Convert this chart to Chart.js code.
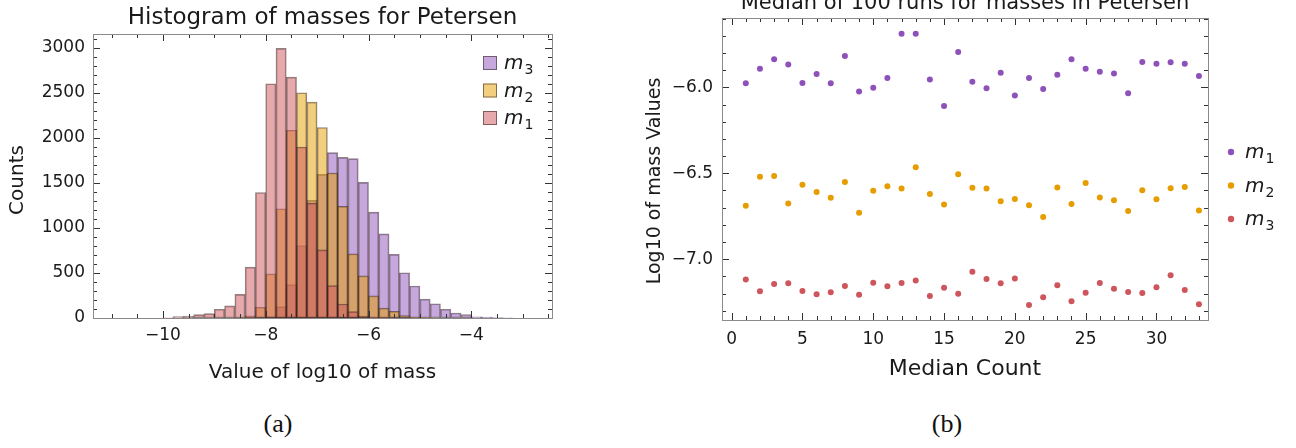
<!DOCTYPE html>
<html><head><meta charset="utf-8">
<script src="https://cdn.jsdelivr.net/npm/chart.js@4.4.0/dist/chart.umd.min.js"></script>
<style>
html,body{margin:0;padding:0;background:#fff;width:1296px;height:448px;overflow:hidden;position:relative}
#c1{position:absolute;left:0;top:0}
#c2{position:absolute;left:620px;top:-10px}
.cap{position:absolute;font-family:"Liberation Serif",serif;font-size:26px;color:#111;top:409px;width:80px;text-align:center}
</style></head><body>
<canvas id="c1" width="620" height="400"></canvas>
<canvas id="c2" width="676" height="410"></canvas>
<div class="cap" style="left:238px">(a)</div>
<div class="cap" style="left:907px">(b)</div>
<script>
const FONT = "'DejaVu Sans', sans-serif";
const TXT = '#1a1a1a';

// ---- Histogram data (bin centres, bin width 0.2) ----
const binCenters = [-9.9,-9.7,-9.5,-9.3,-9.1,-8.9,-8.7,-8.5,-8.3,-8.1,-7.9,-7.7,-7.5,-7.3,-7.1,-6.9,-6.7,-6.5,-6.3,-6.1,-5.9,-5.7,-5.5,-5.3,-5.1,-4.9,-4.7,-4.5,-4.3,-4.1,-3.9,-3.7,-3.5,-3.3];
const m1Counts = [3,15,22,37,48,97,135,262,566,1394,2602,2995,2676,1900,1277,757,360,156,70,22,8,3,0,0,0,0,0,0,0,0,0,0,0,0];
const m2Counts = [0,0,0,0,0,2,3,6,24,119,490,1214,2086,2502,2398,2116,1611,1240,713,468,245,110,74,26,11,5,2,0,0,0,0,0,0,0];
const m3Counts = [0,0,0,0,0,0,0,0,0,3,15,126,371,805,1307,1596,1837,1785,1771,1507,1177,935,707,503,355,210,158,97,56,39,13,10,6,3];
const histXTicks = [-10,-8,-6,-4];
const histXTickLabels = ['\u221210','\u22128','\u22126','\u22124'];
const histYTicks = [0,500,1000,1500,2000,2500,3000];
const histYTickLabels = ['0','500','1000','1500','2000','2500','3000'];

// ---- Median scatter data ----
const medianCount = [1,2,3,4,5,6,7,8,9,10,11,12,13,14,15,16,17,18,19,20,21,22,23,24,25,26,27,28,29,30,31,32,33];
const m1Median = [-5.977,-5.892,-5.837,-5.868,-5.975,-5.923,-5.977,-5.818,-6.025,-6.002,-5.946,-5.688,-5.688,-5.954,-6.109,-5.795,-5.967,-6.006,-5.915,-6.047,-5.946,-6.010,-5.927,-5.837,-5.892,-5.909,-5.919,-6.035,-5.853,-5.863,-5.855,-5.863,-5.934];
const m2Median = [-6.688,-6.520,-6.516,-6.675,-6.566,-6.609,-6.642,-6.551,-6.729,-6.601,-6.576,-6.589,-6.465,-6.620,-6.682,-6.506,-6.584,-6.589,-6.663,-6.649,-6.686,-6.754,-6.582,-6.678,-6.556,-6.640,-6.657,-6.719,-6.599,-6.651,-6.587,-6.580,-6.717];
const m3Median = [-7.118,-7.186,-7.144,-7.140,-7.184,-7.204,-7.192,-7.155,-7.206,-7.136,-7.157,-7.138,-7.124,-7.213,-7.165,-7.200,-7.072,-7.115,-7.140,-7.111,-7.266,-7.221,-7.151,-7.244,-7.194,-7.138,-7.171,-7.190,-7.196,-7.163,-7.093,-7.178,-7.262];
const scatXTicks = [0,5,10,15,20,25,30];
const scatXTickLabels = ['0','5','10','15','20','25','30'];
const scatYTicks = [-7,-6.5,-6];
const scatYTickLabels = ['\u22127.0','\u22126.5','\u22126.0'];

const purple = 'rgb(141,81,185)', orange = 'rgb(229,157,0)', red = 'rgb(205,85,91)';
const purpleA = 'rgba(141,81,185,0.5)', orangeA = 'rgba(229,157,0,0.5)', redA = 'rgba(205,85,91,0.5)';
const edge = 'rgba(45,30,30,0.55)';

function range(a, b, div) { const r = []; for (let k = a; k <= b; k++) r.push(k / div); return r; }

function frameTicks(cfg) {
  return {
    id: 'frameTicks',
    afterDatasetsDraw(chart) {
      const {ctx, chartArea: a, scales: {x, y}} = chart;
      ctx.save();
      ctx.beginPath();
      const dx = (v, len) => {
        const px = Math.round(x.getPixelForValue(v)) + 0.5;
        if (px < a.left || px > a.right) return;
        ctx.moveTo(px, a.bottom); ctx.lineTo(px, a.bottom - len);
        ctx.moveTo(px, a.top); ctx.lineTo(px, a.top + len);
      };
      const dy = (v, len) => {
        const py = Math.round(y.getPixelForValue(v)) + 0.5;
        if (py < a.top || py > a.bottom) return;
        ctx.moveTo(a.left, py); ctx.lineTo(a.left + len, py);
        ctx.moveTo(a.right, py); ctx.lineTo(a.right - len, py);
      };
      cfg.xMinor.forEach(v => dx(v, 4)); cfg.xMajor.forEach(v => dx(v, 7));
      cfg.yMinor.forEach(v => dy(v, 4)); cfg.yMajor.forEach(v => dy(v, 7));
      ctx.strokeStyle = '#333'; ctx.lineWidth = 1; ctx.stroke();
      ctx.strokeStyle = '#8a8a8a';
      ctx.strokeRect(Math.round(a.left) + 0.5, Math.round(a.top) + 0.5, Math.round(a.right - a.left), Math.round(a.bottom - a.top));
      // rotated y-axis title
      ctx.translate(cfg.yTitleX, a.top + cfg.yTitleDy);
      ctx.rotate(-Math.PI / 2);
      ctx.font = cfg.yTitleSize + "px " + FONT; ctx.fillStyle = TXT; ctx.textAlign = 'center'; ctx.textBaseline = 'middle';
      ctx.fillText(cfg.yTitle, 0, 0);
      ctx.restore();
    }
  };
}

function drawLabel(ctx, x, y, digit) {
  ctx.fillStyle = TXT;
  ctx.textBaseline = 'alphabetic';
  ctx.textAlign = 'left';
  ctx.font = "italic 20px " + FONT;
  ctx.fillText('m', x, y);
  const w = ctx.measureText('m').width;
  ctx.font = "14px " + FONT;
  ctx.fillText(digit, x + w + 1, y + 5);
}

const histLegend = {
  id: 'histLegend',
  afterDraw(chart) {
    const ctx = chart.ctx, a = chart.chartArea;
    const items = [['3', purpleA], ['2', orangeA], ['1', redA]];
    ctx.save();
    items.forEach((it, i) => {
      const cy = a.top + 29 + i * 27.5;
      const sx = a.right - 69;
      ctx.fillStyle = '#fff'; ctx.fillRect(sx, cy - 7, 14, 14);
      ctx.fillStyle = it[1]; ctx.fillRect(sx, cy - 7, 14, 14);
      ctx.strokeStyle = edge; ctx.lineWidth = 1; ctx.strokeRect(sx + 0.5, cy - 6.5, 13, 13);
      drawLabel(ctx, sx + 21, cy + 6, it[0]);
    });
    ctx.restore();
  }
};

const scatLegend = {
  id: 'scatLegend',
  afterDraw(chart) {
    const ctx = chart.ctx, a = chart.chartArea;
    const items = [['1', purple], ['2', orange], ['3', red]];
    ctx.save();
    items.forEach((it, i) => {
      const cy = a.top + 134 + i * 33.5;
      const cx = a.right + 23;
      ctx.beginPath(); ctx.arc(cx, cy, 3.2, 0, Math.PI * 2); ctx.fillStyle = it[1]; ctx.fill();
      drawLabel(ctx, cx + 14, cy + 6, it[0]);
    });
    ctx.restore();
  }
};

function histData(counts) {
  return binCenters.map((c, i) => ({x: c, y: counts[i]})).filter(p => p.y > 0);
}

new Chart(document.getElementById('c1'), {
  type: 'bar',
  data: {
    datasets: [
      {label: 'm3', data: histData(m3Counts), backgroundColor: purpleA, borderColor: edge, borderWidth: 1, borderSkipped: false, order: 3},
      {label: 'm2', data: histData(m2Counts), backgroundColor: orangeA, borderColor: edge, borderWidth: 1, borderSkipped: false, order: 2},
      {label: 'm1', data: histData(m1Counts), backgroundColor: redA, borderColor: edge, borderWidth: 1, borderSkipped: false, order: 1}
    ]
  },
  options: {
    responsive: false, animation: false, devicePixelRatio: 1,
    layout: {padding: {left: 0, right: 68, top: 0, bottom: 0}},
    datasets: {bar: {grouped: false, barPercentage: 1, categoryPercentage: 1}},
    plugins: {
      legend: {display: false}, tooltip: {enabled: false},
      title: {display: true, fullSize: false, text: 'Histogram of masses for Petersen', color: TXT,
        font: {family: FONT, size: 23, weight: 'normal', lineHeight: 1.2}, padding: {top: 4, bottom: 2.4}}
    },
    scales: {
      x: {
        type: 'linear', min: -11.36, max: -2.43, offset: false,
        grid: {display: false, drawTicks: false}, border: {display: false},
        afterBuildTicks: s => { s.ticks = histXTicks.map(v => ({value: v})); },
        ticks: {callback: (v, i) => histXTickLabels[i], color: TXT, font: {family: FONT, size: 17}, padding: 7, maxRotation: 0, autoSkip: false},
        title: {display: true, text: 'Value of log10 of mass', color: TXT, font: {family: FONT, size: 20}, padding: {top: 0, bottom: 15}},
        afterFit: s => { s.height = 82; }
      },
      y: {
        type: 'linear', min: 0, max: 3155,
        grid: {display: false, drawTicks: false}, border: {display: false},
        afterBuildTicks: s => { s.ticks = histYTicks.map(v => ({value: v})); },
        ticks: {callback: (v, i) => histYTickLabels[i], color: TXT, font: {family: FONT, size: 17}, padding: 8, autoSkip: false},
        title: {display: false, text: 'Counts'},
        afterFit: s => { s.width = 93; }
      }
    }
  },
  plugins: [frameTicks({xMajor: histXTicks, xMinor: range(-23, -5, 2), yMajor: histYTicks, yMinor: range(0, 31, 0.01),
    yTitle: 'Counts', yTitleX: 18, yTitleDy: 146, yTitleSize: 20}), histLegend]
});

function scat(vals) { return medianCount.map((c, i) => ({x: c, y: vals[i]})); }

new Chart(document.getElementById('c2'), {
  type: 'scatter',
  data: {
    datasets: [
      {label: 'm1', data: scat(m1Median), backgroundColor: purple, pointRadius: 3, pointBorderWidth: 0},
      {label: 'm2', data: scat(m2Median), backgroundColor: orange, pointRadius: 3, pointBorderWidth: 0},
      {label: 'm3', data: scat(m3Median), backgroundColor: red, pointRadius: 3, pointBorderWidth: 0}
    ]
  },
  options: {
    responsive: false, animation: false, devicePixelRatio: 1,
    layout: {padding: {left: 0, right: 88, top: 0, bottom: 0}},
    plugins: {
      legend: {display: false}, tooltip: {enabled: false},
      title: {display: true, fullSize: false, text: 'Median of 100 runs for masses in Petersen', color: TXT,
        font: {family: FONT, size: 21, weight: 'normal', lineHeight: 1.2}, padding: {top: 1.4, bottom: 1.4}}
    },
    scales: {
      x: {
        type: 'linear', min: -0.68, max: 33.64,
        grid: {display: false, drawTicks: false}, border: {display: false},
        afterBuildTicks: s => { s.ticks = scatXTicks.map(v => ({value: v})); },
        ticks: {callback: (v, i) => scatXTickLabels[i], color: TXT, font: {family: FONT, size: 17}, padding: 9, maxRotation: 0, autoSkip: false},
        title: {display: true, text: 'Median Count', color: TXT, font: {family: FONT, size: 22}, padding: {top: 0, bottom: 18}},
        afterFit: s => { s.height = 80; }
      },
      y: {
        type: 'linear', min: -7.353, max: -5.597,
        grid: {display: false, drawTicks: false}, border: {display: false},
        afterBuildTicks: s => { s.ticks = scatYTicks.map(v => ({value: v})); },
        ticks: {callback: (v, i) => scatYTickLabels[i], color: TXT, font: {family: FONT, size: 17}, padding: 9, autoSkip: false},
        title: {display: false, text: 'Log10 of mass Values'},
        afterFit: s => { s.width = 102; }
      }
    }
  },
  plugins: [frameTicks({xMajor: scatXTicks, xMinor: range(0, 33, 1), yMajor: scatYTicks, yMinor: range(-73, -56, 10),
    yTitle: 'Log10 of mass Values', yTitleX: 35, yTitleDy: 163, yTitleSize: 19}), scatLegend]
});
</script>
</body></html>
